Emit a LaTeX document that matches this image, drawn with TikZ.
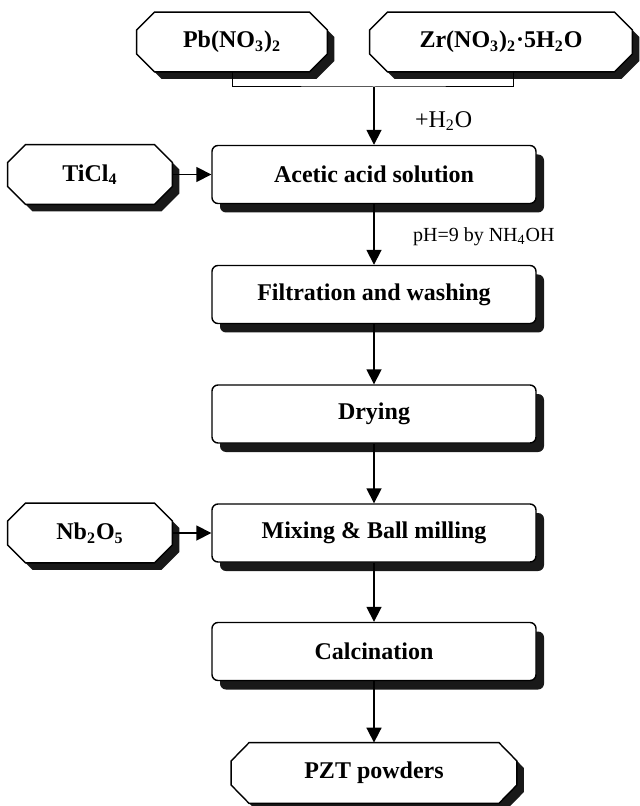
\documentclass[tikz,border=0pt]{standalone}
\usepackage{fontspec}
\setmainfont{Liberation Serif}
\usetikzlibrary{arrows.meta,shadows,backgrounds}

% chamfered outline round a named node
\newcommand\octpath[1]{([xshift=9pt]#1.north west) -- ([xshift=-9pt]#1.north east)
  -- ([yshift=6pt]#1.east) -- ([yshift=-6pt]#1.east)
  -- ([xshift=-9pt]#1.south east) -- ([xshift=9pt]#1.south west)
  -- ([yshift=-6pt]#1.west) -- ([yshift=6pt]#1.west) -- cycle}

\begin{document}
\begin{tikzpicture}[
  x=0.5pt,y=-0.5pt,
  font=\fontsize{12}{14}\selectfont\bfseries,
  proc/.style={draw,line width=0.7pt,rounded corners=3pt,fill=white,
    minimum width=162pt,minimum height=29pt,inner sep=0pt,
    drop shadow={shadow xshift=4pt,shadow yshift=-4.5pt,fill=black!90,opacity=1}},
  feed/.style={minimum height=29.5pt,inner sep=0pt},
  flow/.style={-{Triangle[length=7.5pt,width=7.5pt]},line width=0.85pt},
  note/.style={font=\fontsize{10}{12}\selectfont\mdseries,anchor=west},
]
\useasboundingbox (0,0) rectangle (639,806);

% ---------- starting salts ----------
\node[feed,minimum width=95pt] (pb) at (232,42) {Pb(NO\textsubscript{3})\textsubscript{2}};
\node[feed,minimum width=131pt] (zr) at (501,42) {Zr(NO\textsubscript{3})\textsubscript{2}·5H\textsubscript{2}O};

% ---------- main route ----------
\node[proc] (acetic) at (374,174.5) {Acetic acid solution};
\node[proc] (filt) at (374,294.5) {Filtration and washing};
\node[proc] (dry) at (374,414) {Drying};
\node[proc] (mix) at (374,533) {Mixing \& Ball milling};
\node[proc] (calc) at (374,651.5) {Calcination};
\node[feed,minimum width=142.5pt,minimum height=30pt] (pzt) at (374,773) {PZT powders};

% ---------- side additions ----------
\node[feed,minimum width=82pt] (ticl) at (90,174.5) {TiCl\textsubscript{4}};
\node[feed,minimum width=82pt] (nb) at (90,533) {Nb\textsubscript{2}O\textsubscript{5}};

% chamfered boxes with their shadows
\begin{scope}[on background layer]
  \foreach \n in {pb,zr,pzt,ticl,nb} {
    \fill[black!90,transform canvas={xshift=3.5pt,yshift=-3.5pt}] \octpath{\n};
    \filldraw[fill=white,line width=0.7pt] \octpath{\n};
  }
\end{scope}

% ---------- connectors ----------
\coordinate (join) at (374,87);
\draw[line width=0.5pt] (pb.south) |- (join) -| ([xshift=6pt]zr.south);
\draw[flow] (join) -- (acetic);
\foreach \a/\b in {acetic/filt,filt/dry,dry/mix,mix/calc,calc/pzt}
  \draw[flow] (\a) -- (\b);
\draw[flow] (ticl) -- (acetic);
\draw[flow] (nb) -- (mix);

\node[note,font=\fontsize{12}{14}\selectfont\mdseries] (water) at (408,121) {+H\textsubscript{2}O};
\node[note] (ph) at (406,237) {pH=9 by NH\textsubscript{4}OH};

\end{tikzpicture}
\end{document}
